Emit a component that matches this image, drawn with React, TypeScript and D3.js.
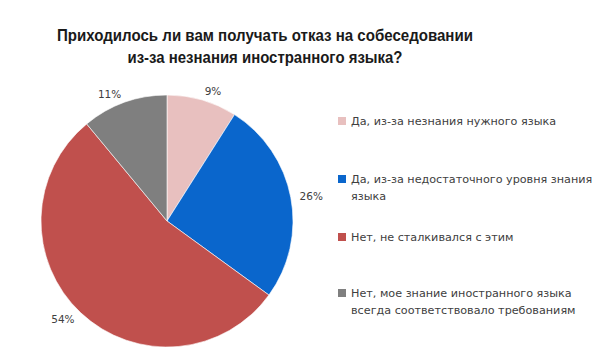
import React from "react";
import * as d3 from "d3";

const categories = [
  "Да, из-за незнания нужного языка",
  "Да, из-за недостаточного уровня знания языка",
  "Нет, не сталкивался с этим",
  "Нет, мое знание иностранного языка всегда соответствовало требованиям",
];
const values = [9, 26, 54, 11];
const colors = ["#E8C0BF", "#0A66CC", "#C0504D", "#7F7F7F"];
const legendLines = [
  ["Да, из-за незнания нужного языка"],
  ["Да, из-за недостаточного уровня знания", "языка"],
  ["Нет, не сталкивался с этим"],
  ["Нет, мое знание иностранного языка", "всегда соответствовало требованиям"],
];
const titleLines = [
  "Приходилось ли вам получать отказ на собеседовании",
  "из-за незнания иностранного языка?",
];

export default function App() {
  const W = 600, H = 364;
  const cx = 167, cy = 221, r = 126;
  const pie = d3.pie<number>().sort(null).value((d) => d);
  const arcs = pie(values);
  const arc = d3.arc<d3.PieArcDatum<number>>().innerRadius(0).outerRadius(r);
  const font = "Liberation Sans, Arial, sans-serif";
  const legendFont = "DejaVu Sans, Verdana, sans-serif";
  const legendY = [121, 179, 237, 293];
  const labelR = r + 9;
  return (
    <svg width={W} height={H} style={{ position: "absolute", left: 0, top: 0 }}>
      <rect width={W} height={H} fill="#fff" />
      {titleLines.map((t, i) => (
        <text key={i} x={265} y={41 + i * 22} textAnchor="middle" fontFamily={font}
          fontWeight="bold" fontSize={16} fill="#1a1a1a"
          textLength={i === 0 ? 416 : 275} lengthAdjust="spacingAndGlyphs">{t}</text>
      ))}
      <g transform={`translate(${cx},${cy})`}>
        {arcs.map((a, i) => (
          <path key={i} d={arc(a) || ""} fill={colors[i]} stroke="#fff" strokeWidth={0.6} />
        ))}
        {arcs.map((a, i) => {
          const mid = (a.startAngle + a.endAngle) / 2;
          const x = Math.sin(mid) * labelR;
          const y = -Math.cos(mid) * labelR;
          return (
            <text key={i} x={x} y={y} textAnchor={x >= 0 ? "start" : "end"} dominantBaseline="central"
              fontFamily={legendFont} fontSize={10.5} fill="#404040">{values[i]}%</text>
          );
        })}
      </g>
      {categories.map((c, i) => (
        <g key={c}>
          <rect x={338} y={legendY[i] - 4} width={8} height={8} fill={colors[i]} />
          {legendLines[i].map((l, j) => (
            <text key={j} x={351} y={legendY[i] + j * 17} dominantBaseline="central"
              fontFamily={legendFont} fontSize={11.2} fill="#404040">{l}</text>
          ))}
        </g>
      ))}
    </svg>
  );
}
